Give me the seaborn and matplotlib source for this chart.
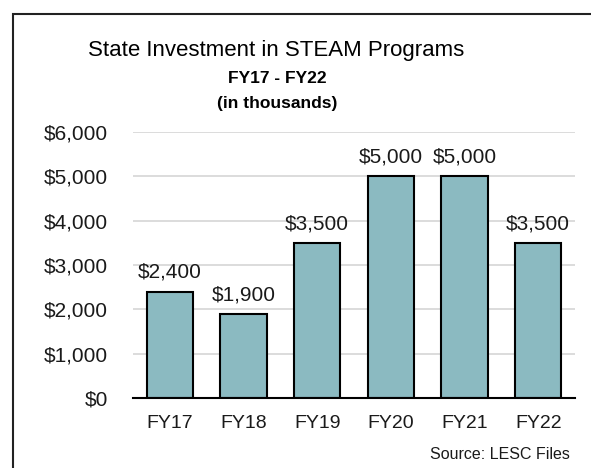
import pandas as pd
import matplotlib.pyplot as plt
import seaborn as sns
from matplotlib.patches import Rectangle
from matplotlib.ticker import FuncFormatter

# Chart data (in thousands of dollars)
years = ["FY17", "FY18", "FY19", "FY20", "FY21", "FY22"]
investment = [2400, 1900, 3500, 5000, 5000, 3500]

BAR_COLOR = "#8BBAC1"
GRID_COLOR = "#D9D9D9"
TEXT_COLOR = "#1a1a1a"

sns.set_style("white")
plt.rcParams['font.family'] = ['Liberation Sans', 'DejaVu Sans']

df = pd.DataFrame({"year": years, "value": investment})

fig = plt.figure(figsize=(5.91, 4.68), dpi=100)
ax = fig.add_axes([0.225, 0.1496, 0.748, 0.5684])

sns.barplot(data=df, x="year", y="value", color=BAR_COLOR, width=0.63,
            edgecolor="black", linewidth=1.5, saturation=1, ax=ax, zorder=3)

ax.set_ylim(0, 6000)
ax.set_yticks(range(0, 6001, 1000))
ax.yaxis.set_major_formatter(FuncFormatter(lambda v, p: f"${v:,.0f}"))
ax.grid(axis="y", color=GRID_COLOR, linewidth=1.3, zorder=0)
ax.set_axisbelow(True)
ax.set_xlabel("")
ax.set_ylabel("")
for side in ["left", "right", "top"]:
    ax.spines[side].set_visible(False)
ax.spines["bottom"].set_color("black")
ax.spines["bottom"].set_linewidth(1.5)
ax.spines["bottom"].set_zorder(4)
ax.tick_params(axis="y", length=0, pad=18, labelsize=15, colors=TEXT_COLOR)
ax.tick_params(axis="x", length=0, pad=12, labelsize=14, colors=TEXT_COLOR)

for c in ax.containers:
    ax.bar_label(c, labels=[f"${v:,.0f}" for v in investment], padding=7,
                 fontsize=15, color=TEXT_COLOR)

# titles
fig.text(0.468, 0.880, "State Investment in STEAM Programs", ha="center", va="baseline",
         fontsize=16, color="black")
fig.text(0.470, 0.8226, "FY17 - FY22", ha="center", va="baseline",
         fontsize=12.5, fontweight="bold", color="black")
fig.text(0.469, 0.769, "(in thousands)", ha="center", va="baseline",
         fontsize=12.5, fontweight="bold", color="black")
fig.text(0.9645, 0.028, "Source: LESC Files", ha="right", va="center",
         fontsize=11.5, color=TEXT_COLOR)

# chart border (runs past the right/bottom edges of the image)
fig.patches.append(Rectangle((0.022, -0.05), 1.05, 1.02,
                             transform=fig.transFigure, fill=False,
                             edgecolor="#222222", linewidth=1.5))

fig.savefig("out.png", dpi=100)
